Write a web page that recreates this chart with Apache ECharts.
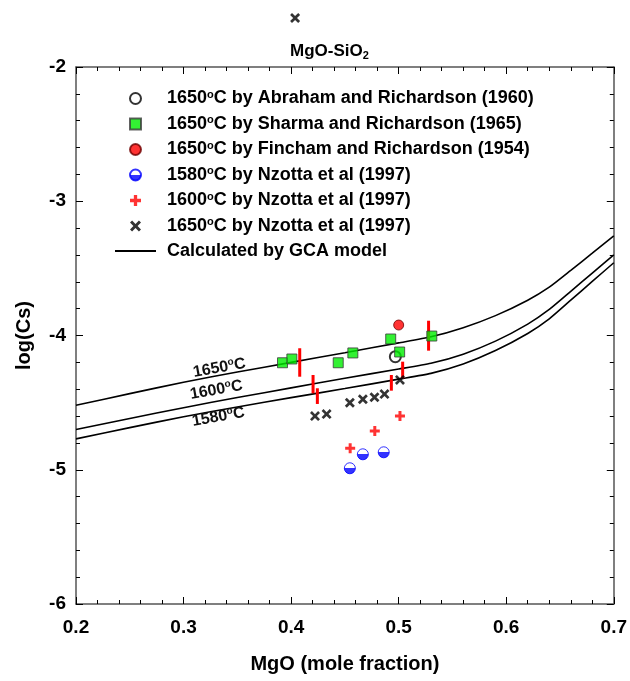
<!DOCTYPE html>
<html><head><meta charset="utf-8">
<script src="https://cdn.jsdelivr.net/npm/echarts@6/dist/echarts.min.js"></script>
<style>html,body{margin:0;padding:0;background:#fff}#c{width:630px;height:681px}</style>
</head><body><div id="c"></div>
<script>
// ---- data ----
const seriesNames = [
  '1650°C by Abraham and Richardson (1960)',
  '1650°C by Sharma and Richardson (1965)',
  '1650°C by Fincham and Richardson (1954)',
  '1580°C by Nzotta et al (1997)',
  '1600°C by Nzotta et al (1997)',
  '1650°C by Nzotta et al (1997)',
  'Calculated by GCA model'
];
const abraham = [[0.4969, -4.158]];
const sharma = [[0.392, -4.203], [0.4007, -4.175], [0.4438, -4.203], [0.4574, -4.130], [0.4926, -4.026], [0.5009, -4.123], [0.5308, -4.004]];
const fincham = [[0.500, -3.922]];
const nzotta1580 = [[0.4546, -4.989], [0.4667, -4.885], [0.4861, -4.870]];
const nzotta1600 = [[0.4549, -4.840], [0.4778, -4.711], [0.5012, -4.600]];
const nzotta1650 = [[0.4222, -4.600], [0.4330, -4.585], [0.4546, -4.501], [0.4667, -4.475], [0.4775, -4.460], [0.4868, -4.436], [0.5012, -4.331], [0.4037, -1.635]];
// red vertical bars: [x, yHigh, yLow]
const redBars = [[0.408, -4.095, -4.307], [0.4204, -4.294, -4.431], [0.4244, -4.393, -4.510], [0.4932, -4.294, -4.411], [0.5037, -4.195, -4.319], [0.5278, -3.890, -4.113]];
// GCA model curves
const curveX    = [0.2,   0.25,   0.3,    0.35,   0.4,    0.45,   0.5,    0.53,   0.56,   0.59,   0.62,   0.64,   0.66,   0.68,   0.7];
const curve1650 = [-4.52, -4.433, -4.348, -4.272, -4.200, -4.128, -4.055, -4.010, -3.942, -3.852, -3.737, -3.640, -3.515, -3.387, -3.258];
const curve1600 = [-4.70, -4.618, -4.538, -4.462, -4.390, -4.318, -4.250, -4.207, -4.139, -4.042, -3.915, -3.806, -3.671, -3.535, -3.399];
const curve1580 = [-4.77, -4.686, -4.605, -4.532, -4.463, -4.395, -4.325, -4.282, -4.212, -4.112, -3.985, -3.876, -3.737, -3.597, -3.458];
const curveLabels = ['1650°C', '1600°C', '1580°C'];
const curveLabelPos = [[0.3333, -4.242], [0.3306, -4.406], [0.3324, -4.607]];
const xTicks = [0.2, 0.3, 0.4, 0.5, 0.6, 0.7];
const yTicks = [-6, -5, -4, -3, -2];

// ---- build ----
const FONT = '"Liberation Sans", Arial, sans-serif';
const sup = (s) => s.replace('°', '{sup|o}');
const richSup = {
  sup: { fontSize: 11, fontWeight: 'bold', fontFamily: FONT, color: '#000', padding: [0, 0, 8, 0], lineHeight: 10 }
};
const richSupSmall = {
  sup: { fontSize: 10, fontWeight: 'bold', fontFamily: FONT, color: '#111', padding: [0, 0, 8, 0], lineHeight: 10 }
};
const zip = (xs, ys) => xs.map((x, i) => [x, ys[i]]);
const curveSeries = [curve1650, curve1600, curve1580].map((ys, i) => ({
  type: 'line', name: seriesNames[6], data: zip(curveX, ys), symbol: 'none', smooth: 0.2,
  lineStyle: { color: '#000', width: 1.6 }, itemStyle: { color: '#000' }, z: 2,
  markPoint: {
    symbol: 'rect', symbolSize: 1, itemStyle: { color: 'rgba(0,0,0,0)' },
    label: { show: true, position: 'inside', rotate: 10, formatter: sup(curveLabels[i]),
      fontSize: 16, fontWeight: 'bold', fontFamily: FONT, color: '#111', rich: richSupSmall },
    data: [{ coord: curveLabelPos[i] }]
  }
}));
const halfBlue = new echarts.graphic.LinearGradient(0, 0, 0, 1, [
  { offset: 0, color: '#ffffff' }, { offset: 0.5, color: '#ffffff' },
  { offset: 0.5, color: '#0000ff' }, { offset: 1, color: '#0000ff' }]);
const squarePath = 'path://M0,0H10V10H0Z';
const plusPath = 'path://M3.5,0H6.5V3.5H10V6.5H6.5V10H3.5V6.5H0V3.5H3.5Z';
const crossPath = 'path://M1.9,0L5,3.1L8.1,0L10,1.9L6.9,5L10,8.1L8.1,10L5,6.9L1.9,10L0,8.1L3.1,5L0,1.9Z';

const chart = echarts.init(document.getElementById('c'), null, { renderer: 'canvas' });
const axisCommon = {
  axisLine: { show: true, lineStyle: { color: '#555', width: 1.5 } },
  axisTick: { show: true, inside: true, length: 7, lineStyle: { color: '#000', width: 1 } },
  minorTick: { show: true, splitNumber: 5, length: 4, lineStyle: { color: '#000', width: 1 } },
  splitLine: { show: false }
};
const legendData = seriesNames.map((n, i) => i === 6 ? { name: n, icon: 'inherit', itemStyle: { opacity: 0 } } : n);
chart.setOption({
  animation: false,
  backgroundColor: '#fff',
  title: {
    text: 'MgO-SiO{sub|2}', left: 285, top: 37,
    textStyle: { fontSize: 17, fontWeight: 'bold', fontFamily: FONT, color: '#000', lineHeight: 19,
      rich: { sub: { fontSize: 11, fontWeight: 'bold', fontFamily: FONT, color: '#000', padding: [9, 0, 0, 0], lineHeight: 10 } } }
  },
  grid: { left: 76, right: 14, top: 67, bottom: 77 },
  legend: {
    data: legendData, orient: 'vertical', left: 109, top: 84, itemWidth: 41, itemHeight: 11, itemGap: 6.5,
    formatter: (n) => sup(n),
    textStyle: { fontSize: 18, fontWeight: 'bold', fontFamily: FONT, color: '#000', lineHeight: 18, padding: [0, 0, 0, 6], rich: richSup },
    selectedMode: false
  },
  xAxis: [
    Object.assign({}, axisCommon, { type: 'value', min: xTicks[0], max: xTicks[xTicks.length - 1], interval: 0.1,
      name: 'MgO (mole fraction)', nameLocation: 'middle', nameGap: 50,
      nameTextStyle: { fontSize: 20, fontWeight: 'bold', fontFamily: FONT, color: '#000' },
      axisLabel: { fontSize: 19, fontWeight: 'bold', fontFamily: FONT, color: '#000', margin: 14, formatter: (v) => v.toFixed(1) } }),
    Object.assign({}, axisCommon, { type: 'value', position: 'top', min: xTicks[0], max: xTicks[xTicks.length - 1], interval: 0.1, axisLabel: { show: false } })
  ],
  yAxis: [
    Object.assign({}, axisCommon, { type: 'value', min: yTicks[0], max: yTicks[yTicks.length - 1], interval: 1,
      name: 'log(Cs)', nameLocation: 'middle', nameGap: 42,
      nameTextStyle: { fontSize: 20, fontWeight: 'bold', fontFamily: FONT, color: '#000' },
      axisLabel: { fontSize: 19, fontWeight: 'bold', fontFamily: FONT, color: '#000', margin: 10 } }),
    Object.assign({}, axisCommon, { type: 'value', position: 'right', min: yTicks[0], max: yTicks[yTicks.length - 1], interval: 1, axisLabel: { show: false } })
  ],
  series: [
    ...curveSeries,
    {
      type: 'custom', name: 'bars', data: redBars, encode: { x: 0, y: [1, 2] }, z: 3,
      renderItem: (params, api) => {
        const p1 = api.coord([api.value(0), api.value(1)]);
        const p2 = api.coord([api.value(0), api.value(2)]);
        return { type: 'line', shape: { x1: p1[0], y1: p1[1], x2: p2[0], y2: p2[1] }, style: { stroke: '#ff0000', lineWidth: 3 } };
      }
    },
    { type: 'scatter', name: seriesNames[0], data: abraham, symbol: 'circle', symbolSize: 11, z: 4,
      itemStyle: { color: '#fff', borderColor: '#000', borderWidth: 2 } },
    { type: 'scatter', name: seriesNames[1], data: sharma, symbol: squarePath, symbolSize: 10, symbolKeepAspect: true, z: 5,
      itemStyle: { color: '#00ee00', borderColor: '#3a3a3a', borderWidth: 1 } },
    { type: 'scatter', name: seriesNames[2], data: fincham, symbol: 'circle', symbolSize: 10, z: 5,
      itemStyle: { color: '#ff0000', borderColor: '#700000', borderWidth: 1 } },
    { type: 'scatter', name: seriesNames[3], data: nzotta1580, symbol: 'circle', symbolSize: 11, z: 5,
      itemStyle: { color: halfBlue, borderColor: '#0000ff', borderWidth: 1 } },
    { type: 'scatter', name: seriesNames[4], data: nzotta1600, symbol: plusPath, symbolSize: 10, z: 5,
      itemStyle: { color: '#ff0000' } },
    { type: 'scatter', name: seriesNames[5], data: nzotta1650, symbol: crossPath, symbolSize: 10, z: 5, clip: false,
      itemStyle: { color: '#000' } }
  ]
});
</script></body></html>
